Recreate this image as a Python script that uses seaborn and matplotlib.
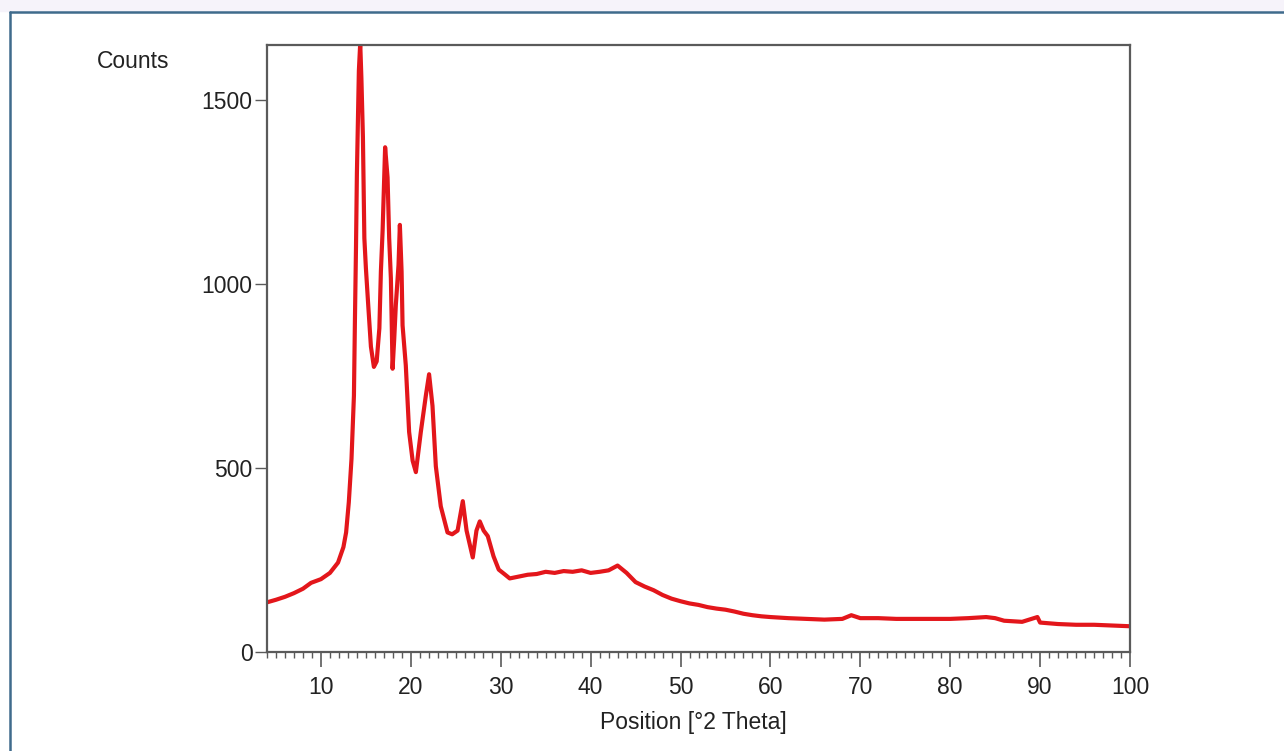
import pandas as pd
import matplotlib
matplotlib.use("Agg")
import matplotlib.pyplot as plt
from matplotlib.ticker import MultipleLocator
import seaborn as sns

# === Data ===
two_theta = [4.0, 5.0, 6.0, 7.0, 8.0, 8.9, 10.0, 11.0, 11.9, 12.5, 12.8, 13.1,
             13.4, 13.67, 13.78, 13.9, 14.0, 14.22, 14.37, 14.5, 14.67, 14.83,
             15.0, 15.26, 15.56, 15.89, 16.2, 16.5, 16.67, 16.86, 17.14, 17.41,
             17.59, 17.78, 17.97, 18.15, 18.33, 18.63, 18.78, 18.97, 19.08,
             19.44, 19.81, 20.2, 20.56, 21.11, 21.67, 22.03, 22.41, 22.78,
             23.33, 24.08, 24.6, 25.2, 25.78, 26.2, 26.89, 27.3, 27.67, 28.1,
             28.56, 29.2, 29.78, 30.5, 31.0, 32.0, 33.0, 34.0, 35.0, 36.0,
             37.0, 38.0, 39.0, 40.0, 41.0, 42.0, 43.0, 44.0, 45.0, 46.0, 47.0,
             48.0, 49.0, 50.0, 51.0, 52.0, 53.0, 54.0, 55.0, 56.0, 57.0, 58.0,
             59.0, 60.0, 62.0, 64.0, 66.0, 68.0, 69.0, 70.0, 72.0, 74.0, 76.0,
             78.0, 80.0, 82.0, 84.0, 85.0, 86.0, 88.0, 89.7, 90.0, 92.0, 94.0,
             96.0, 98.0, 100.0]
counts = [135, 142, 150, 160, 172, 188, 198, 215, 243, 285, 325, 407,
          525, 697, 900, 1100, 1300, 1580, 1655, 1560, 1400, 1125,
          1044, 943, 830, 775, 790, 880, 1035, 1145, 1372, 1290,
          1125, 1016, 770, 850, 943, 1052, 1161, 1035, 888,
          779, 598, 520, 489, 598, 697, 755, 669, 505,
          396, 325, 320, 330, 410, 330, 257, 330, 355, 330,
          315, 260, 224, 210, 200, 205, 210, 212, 218, 215,
          220, 218, 222, 215, 218, 222, 235, 215, 190, 178, 168,
          155, 145, 138, 132, 128, 122, 118, 115, 110, 104, 100,
          97, 95, 92, 90, 88, 90, 100, 92, 92, 90, 90,
          90, 90, 92, 95, 92, 85, 82, 95, 80, 76, 74,
          74, 72, 70]

x_ticks = [10, 20, 30, 40, 50, 60, 70, 80, 90, 100]
y_ticks = [0, 500, 1000, 1500]

df = pd.DataFrame({"Position": two_theta, "Counts": counts})

# === Style ===
sns.set_style("white")
plt.rcParams["font.family"] = ["Liberation Sans", "DejaVu Sans"]
text_color = "#222222"
spine_color = "#5a5a5a"

fig = plt.figure(figsize=(12.84, 7.51), dpi=100)
ax = fig.add_axes([267 / 1284, 1 - 652 / 751, 863 / 1284, 607 / 751])

sns.lineplot(data=df, x="Position", y="Counts", color="#e3161b", lw=3.0, ax=ax)

ax.set_xlim(4, 100)
ax.set_ylim(0, 1650)
ax.set_xticks(x_ticks)
ax.set_yticks(y_ticks)
ax.xaxis.set_minor_locator(MultipleLocator(1))
ax.tick_params(axis="x", which="major", direction="out", length=11, width=1.2,
               color=spine_color, pad=6, labelsize=16.5, labelcolor=text_color, bottom=True)
ax.tick_params(axis="x", which="minor", direction="out", length=4.5, width=1.0,
               color=spine_color, bottom=True)
ax.tick_params(axis="y", which="major", direction="out", length=9, width=1.0,
               color=spine_color, pad=1.5, labelsize=16.5, labelcolor=text_color, left=True)
for s in ax.spines.values():
    s.set_visible(True)
    s.set_color(spine_color)
    s.set_linewidth(1.6)
ax.set_xlabel("")
ax.set_ylabel("")

fig.text(133 / 1284, 1 - 61 / 751, "Counts", ha="center", va="center",
         fontsize=16.5, color=text_color)
fig.text(693 / 1284, 1 - 722 / 751, "Position [°2 Theta]", ha="center", va="center",
         fontsize=16.5, color=text_color)

# === Outer frame ===
fig.patches.append(plt.Rectangle((0, 1 - 11 / 751), 1, 11 / 751, transform=fig.transFigure,
                                 color="#f6f3fa", zorder=0))
fig.lines.append(plt.Line2D([10 / 1284, 1], [1 - 12 / 751, 1 - 12 / 751],
                            transform=fig.transFigure, color="#3f6b8c", lw=1.8))
fig.lines.append(plt.Line2D([10 / 1284, 10 / 1284], [0, 1 - 12 / 751],
                            transform=fig.transFigure, color="#3f6b8c", lw=1.8))

plt.savefig("out.png", dpi=100)
